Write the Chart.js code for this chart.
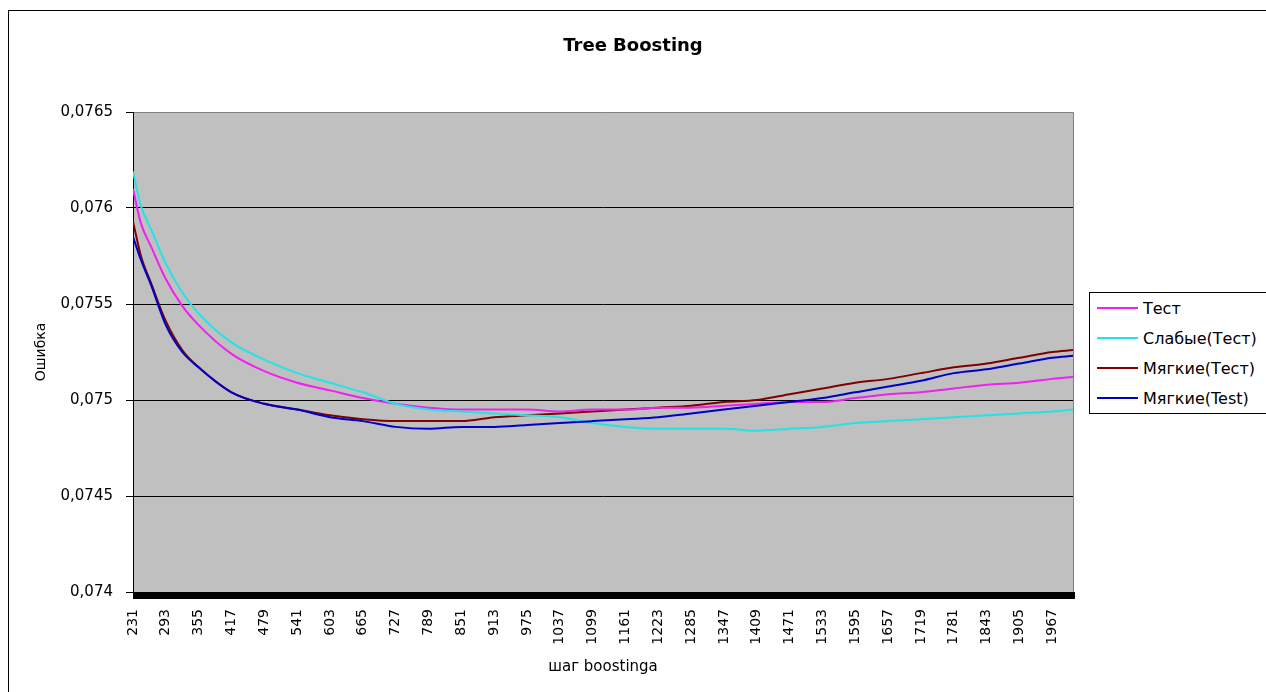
<!DOCTYPE html>
<html>
<head>
<meta charset="utf-8">
<title>Tree Boosting</title>
<script src="https://cdn.jsdelivr.net/npm/chart.js@4.4.1/dist/chart.umd.min.js"></script>
<style>
    html, body { margin: 0; padding: 0; background: #fff; overflow: hidden; }
    #wrap { position: relative; width: 1266px; height: 692px; overflow: hidden; }
    #frame { position: absolute; left: 8px; top: 10px; width: 1300px; height: 700px;
             border: 1px solid #000; box-sizing: border-box; pointer-events: none; }
    #legend { position: absolute; left: 1089px; top: 292px; width: 200px; background: #fff;
              border: 1px solid #000; font: 16px "DejaVu Sans"; color: #000; }
    .row { display: flex; align-items: center; height: 30px; white-space: nowrap; }
    .swatch { display: inline-block; width: 41px; height: 0; margin: 0 5px 0 7px; border-top: 2px solid; }
</style>
</head>
<body>
<div id="wrap">
    <canvas id="chart" width="1266" height="692"></canvas>
    <div id="frame"></div>
    <div id="legend"></div>
</div>
<script>
// boosting step at which each value was read
const steps = [231, 246, 265, 293, 324, 355, 417, 479, 541, 603, 665, 727, 789, 851, 913, 975, 1037,
               1099, 1161, 1223, 1285, 1347, 1409, 1471, 1533, 1595, 1657, 1719, 1781, 1843, 1905, 1967, 2006];

const test_err = [0.07610, 0.07592, 0.07580, 0.07563, 0.07549, 0.07539, 0.07524, 0.07515, 0.07509, 0.07505,
                  0.07501, 0.07498, 0.07496, 0.07495, 0.07495, 0.07495, 0.07494, 0.07495, 0.07495, 0.07496,
                  0.07496, 0.07497, 0.07498, 0.07499, 0.07499, 0.07501, 0.07503, 0.07504, 0.07506, 0.07508,
                  0.07509, 0.07511, 0.07512];

const weak_err = [0.07619, 0.07601, 0.07589, 0.07571, 0.07556, 0.07545, 0.07530, 0.07521, 0.07514, 0.07509,
                  0.07504, 0.07498, 0.07495, 0.07494, 0.07493, 0.07492, 0.07491, 0.07488, 0.07486, 0.07485,
                  0.07485, 0.07485, 0.07484, 0.07485, 0.07486, 0.07488, 0.07489, 0.07490, 0.07491, 0.07492,
                  0.07493, 0.07494, 0.07495];

const soft_err = [0.07593, 0.07575, 0.07561, 0.07541, 0.07526, 0.07517, 0.07504, 0.07498, 0.07495, 0.07492,
                  0.07490, 0.07489, 0.07489, 0.07489, 0.07491, 0.07492, 0.07493, 0.07494, 0.07495, 0.07496,
                  0.07497, 0.07499, 0.07500, 0.07503, 0.07506, 0.07509, 0.07511, 0.07514, 0.07517, 0.07519,
                  0.07522, 0.07525, 0.07526];

const soft_test_err = [0.07585, 0.07573, 0.07560, 0.07539, 0.07525, 0.07517, 0.07504, 0.07498, 0.07495, 0.07491,
                       0.07489, 0.07486, 0.07485, 0.07486, 0.07486, 0.07487, 0.07488, 0.07489, 0.07490, 0.07491,
                       0.07493, 0.07495, 0.07497, 0.07499, 0.07501, 0.07504, 0.07507, 0.07510, 0.07514, 0.07516,
                       0.07519, 0.07522, 0.07523];

const x_tick_labels = [231, 293, 355, 417, 479, 541, 603, 665, 727, 789, 851, 913, 975, 1037, 1099,
                       1161, 1223, 1285, 1347, 1409, 1471, 1533, 1595, 1657, 1719, 1781, 1843, 1905, 1967];

const series_names = ['Тест', 'Слабые(Тест)', 'Мягкие(Тест)', 'Мягкие(Test)'];
const series_colours = ['#f020f0', '#22e4e4', '#800000', '#0000c8'];
const series_values = [test_err, weak_err, soft_err, soft_test_err];
const draw_order = [2, 1, 3, 0];

function points ( values )
{
    return values.map((v, ii) => ({ x: steps[ii], y: v }));
}

function comma_label ( v )
{
    return Number(v.toFixed(4)).toString().replace('.', ',');
}

// grey plot area, grey top/right edge and the thick black floor line
const plot_area =
{
    id: 'plot_area',
    beforeDraw: function (chart)
    {
        const { ctx, chartArea: a } = chart;
        ctx.save();
        ctx.fillStyle = '#c0c0c0';
        ctx.fillRect(a.left, a.top, a.right - a.left, a.bottom - a.top);
        ctx.strokeStyle = '#808080';
        ctx.lineWidth = 1;
        ctx.beginPath();
        ctx.moveTo(a.left, a.top + 0.5);
        ctx.lineTo(a.right + 0.5, a.top + 0.5);
        ctx.lineTo(a.right + 0.5, a.bottom);
        ctx.stroke();
        ctx.restore();
    },
    afterDraw: function (chart)
    {
        const { ctx, chartArea: a } = chart;
        ctx.save();
        ctx.fillStyle = '#000';
        ctx.fillRect(a.left, a.bottom, a.right - a.left + 2, 7);
        ctx.restore();
    }
};

const datasets = series_names.map((name, ii) => ({
    label: name,
    data: points(series_values[ii]),
    borderColor: series_colours[ii],
    backgroundColor: series_colours[ii],
    borderWidth: 2,
    pointRadius: 0,
    cubicInterpolationMode: 'monotone',
    order: draw_order[ii]
}));

const chart = new Chart(document.getElementById('chart'),
{
    type: 'line',
    data: { datasets: datasets },
    options:
    {
        responsive: false,
        animation: false,
        devicePixelRatio: 1,
        layout: { padding: 0 },
        plugins:
        {
            legend: { display: false },
            tooltip: { enabled: false },
            title:
            {
                display: true,
                text: 'Tree Boosting',
                color: '#000',
                font: { family: 'DejaVu Sans', size: 18, weight: 'bold' },
                padding: { top: 36, bottom: 54.4 }
            }
        },
        scales:
        {
            x:
            {
                type: 'linear',
                min: 231,
                max: 2006,
                afterFit: function (s) { s.height = 100; },
                afterBuildTicks: function (s) { s.ticks = x_tick_labels.map(v => ({ value: v })); },
                grid: { display: false, drawTicks: false },
                border: { display: false },
                ticks:
                {
                    autoSkip: false,
                    minRotation: 90,
                    maxRotation: 90,
                    padding: 17,
                    color: '#000',
                    font: { family: 'DejaVu Sans', size: 14 },
                    callback: v => String(v)
                },
                title:
                {
                    display: true,
                    text: 'шаг boostinga',
                    color: '#000',
                    font: { family: 'DejaVu Sans', size: 15 },
                    padding: { top: 0, bottom: 16 }
                }
            },
            y:
            {
                min: 0.074,
                max: 0.0765,
                afterFit: function (s) { s.width = 133; },
                ticks:
                {
                    stepSize: 0.0005,
                    padding: 13,
                    color: '#000',
                    font: { family: 'DejaVu Sans', size: 15 },
                    callback: v => comma_label(v)
                },
                grid:
                {
                    color: c => (c.tick && c.tick.value > 0.07649) ? '#808080' : '#000',
                    tickColor: '#000',
                    lineWidth: 1,
                    tickLength: 7
                },
                border: { color: '#000', width: 1 },
                title:
                {
                    display: true,
                    text: 'Ошибка',
                    color: '#000',
                    font: { family: 'DejaVu Sans', size: 14 },
                    padding: { top: 33, bottom: 0 }
                }
            },
            // empty strip on the right that keeps room for the legend box
            legend_room:
            {
                type: 'linear',
                position: 'right',
                afterFit: function (s) { s.width = 193; },
                grid: { display: false, drawTicks: false },
                border: { display: false },
                ticks: { display: false }
            }
        }
    },
    plugins: [plot_area]
});

// legend box to the right of the plot
const legend = document.getElementById('legend');
for ( let ds of chart.data.datasets )
{
    const row = document.createElement('div');
    row.className = 'row';
    const swatch = document.createElement('span');
    swatch.className = 'swatch';
    swatch.style.borderTopColor = ds.borderColor;
    row.appendChild(swatch);
    row.appendChild(document.createTextNode(ds.label));
    legend.appendChild(row);
}
</script>
</body>
</html>
